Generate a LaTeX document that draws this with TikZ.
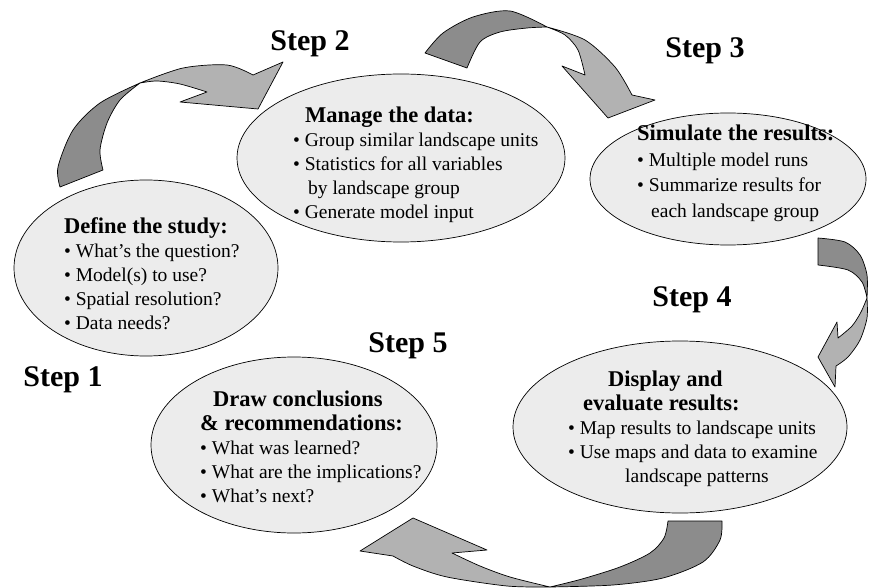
\documentclass[tikz,border=0pt]{standalone}
\usepackage{fontspec}
\setmainfont{Liberation Serif}
\usetikzlibrary{shapes.geometric}
\definecolor{bubblegray}{RGB}{236,236,236}
\definecolor{darkband}{RGB}{140,140,140}
\definecolor{lightband}{RGB}{178,178,178}
\newcommand\bhead[1]{{\fontsize{22.5}{24}\selectfont\bfseries #1}}
\newcommand\bitem{\textbullet\ }

\begin{document}
\begin{tikzpicture}[x=1pt,y=-1pt,
    bubble/.style={ellipse, draw, line width=0.7pt, fill=bubblegray, inner sep=0pt},
    steplabel/.style={font=\fontsize{30}{34}\selectfont\bfseries, inner sep=0pt},
    blurb/.style={align=left, anchor=north west, inner sep=0pt, font=\fontsize{19.5}{24}\selectfont},
    band/.style={draw, line width=0.7pt, line join=round}]
  \useasboundingbox (0,0) rectangle (870,588);

  \filldraw[band, fill=darkband] plot[smooth] coordinates {(60,187) (58,167) (73,130) (100,103) (140,83)}
    -- plot[smooth] coordinates {(140,83) (120,100) (107,123) (100,150) (103,170)} -- cycle;
  \filldraw[band, fill=lightband] plot[smooth] coordinates {(140,83) (183,68) (227,65) (253,75)}
    -- (283,62) -- (258,109) -- (180,102) -- (207,92)
    -- plot[smooth] coordinates {(207,92) (180,84) (157,81) (140,83)} -- cycle;

  \filldraw[band, fill=darkband] plot[smooth] coordinates {(425,53) (443,33) (473,17) (510,11) (547,27)}
    -- plot[smooth] coordinates {(547,27) (527,28) (500,32) (480,42) (467,68)} -- cycle;
  \filldraw[band, fill=lightband] plot[smooth] coordinates {(547,27) (585,40) (615,67) (632,95)}
    -- (655,100) -- (608,118) -- (562,66) -- (585,75)
    -- plot[smooth] coordinates {(585,75) (578,50) (565,35) (547,27)} -- cycle;

  \filldraw[band, fill=darkband] plot[smooth] coordinates {(818,238) (845,242) (860,255) (867,275) (867,298)}
    -- plot[smooth] coordinates {(867,298) (862,282) (848,270) (818,265)} -- cycle;
  \filldraw[band, fill=lightband] plot[smooth] coordinates {(867,298) (867,318) (860,340) (848,357) (836,366)}
    -- (835,387) -- (818,357) -- (837,322) -- (838,338)
    -- plot[smooth] coordinates {(838,338) (852,326) (861,312) (867,298)} -- cycle;

  \filldraw[band, fill=darkband] plot[smooth] coordinates {(722,521) (720,540) (703,562) (663,578) (613,585) (550,587)}
    -- plot[smooth] coordinates {(550,587) (582,579) (620,567) (650,553) (664,538) (668,521)} -- cycle;
  \filldraw[band, fill=lightband] plot[smooth] coordinates {(550,587) (507,586) (447,577) (413,566) (393,556)}
    -- (360,551) -- (413,518) -- (487,550) -- (452,553)
    -- plot[smooth] coordinates {(452,553) (480,566) (510,577) (550,587)} -- cycle;

  \node[bubble, minimum width=264pt, minimum height=176pt] (define) at (146,268) {};
  \node[bubble, minimum width=328pt, minimum height=168pt] (manage) at (401,158) {};
  \node[bubble, minimum width=276pt, minimum height=132pt] (simulate) at (728,179) {};
  \node[bubble, minimum width=334pt, minimum height=172pt] (display) at (680,427) {};
  \node[bubble, minimum width=286pt, minimum height=176pt] (conclude) at (294,445) {};

  \node[blurb] (definetxt) at (64,217) {\bhead{Define the study:}\\
    \bitem What's the question?\\ \bitem Model(s) to use?\\ \bitem Spatial resolution?\\ \bitem Data needs?};
  \node[blurb] (managetxt) at (293,107) {\hspace*{12pt}\bhead{Manage the data:}\\
    \bitem Group similar landscape units\\ \bitem Statistics for all variables\\
    \hspace*{15pt}by landscape group\\ \bitem Generate model input};
  \node[blurb] (simulatetxt) at (637,125) {\bhead{Simulate the results:}\\[2pt]
    \bitem Multiple model runs\\[1pt] \bitem Summarize results for\\[2pt] \hspace*{14pt}each landscape group};
  \node[blurb] (displaytxt) at (568,371) {\hspace*{40pt}\bhead{Display and}\\
    \hspace*{15pt}\bhead{evaluate results:}\\ \bitem Map results to landscape units\\
    \bitem Use maps and data to examine\\ \hspace*{57pt}landscape patterns};
  \node[blurb] (concludetxt) at (200,391) {\hspace*{13pt}\bhead{Draw conclusions}\\
    \bhead{\& recommendations:}\\ \bitem What was learned?\\
    \bitem What are the implications?\\ \bitem What's next?};

  \node[steplabel] (step1) at (63,380) {Step 1};
  \node[steplabel] (step2) at (310,44) {Step 2};
  \node[steplabel] (step3) at (705,51) {Step 3};
  \node[steplabel] (step4) at (692,300) {Step 4};
  \node[steplabel] (step5) at (408,346) {Step 5};
\end{tikzpicture}
\end{document}
